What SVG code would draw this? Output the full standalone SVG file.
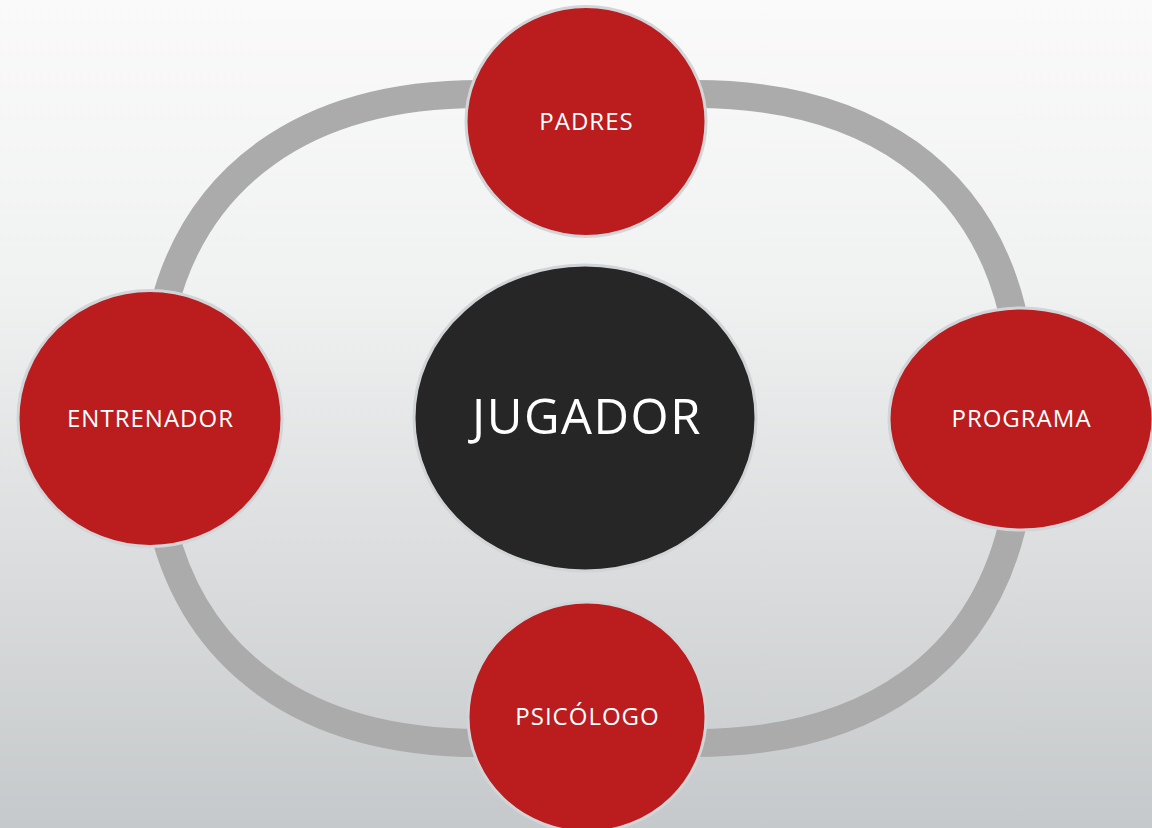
<svg xmlns="http://www.w3.org/2000/svg" width="1152" height="828" viewBox="0 0 1152 828">
<defs>
<linearGradient id="bg" x1="0" y1="0" x2="0" y2="1">
<stop offset="0" stop-color="#fafafa"/>
<stop offset="0.35" stop-color="#f0f1f1"/>
<stop offset="1" stop-color="#c6c9cb"/>
</linearGradient>
<style>
.ring{fill:none;stroke:#ababab;stroke-width:28}
.node{fill:#bb1c1e;stroke:#d2d5d8;stroke-width:3}
.center{fill:#262626;stroke:#d2d5d8;stroke-width:3}
.lbl{font-family:"Open Sans","Liberation Sans",sans-serif;fill:#ffffff;text-anchor:middle;font-size:24px;letter-spacing:1px}
.big{font-size:49px;letter-spacing:1.5px}
</style>
</defs>
<rect x="0" y="0" width="1152" height="828" fill="url(#bg)"/>
<g id="connectors">
<path class="ring" d="M163,310 C195,180 300,94 480,94"/>
<path class="ring" d="M1012,310 C980,180 875,94 695,94"/>
<path class="ring" d="M163,527 C195,657 300,743 480,743"/>
<path class="ring" d="M1012,527 C980,657 875,743 695,743"/>
</g>
<g id="jugador">
<ellipse class="center" cx="585" cy="418" rx="171" ry="153"/>
<text class="lbl big" x="587" y="434">JUGADOR</text>
</g>
<g id="padres">
<ellipse class="node" cx="586" cy="121.5" rx="120" ry="115"/>
<text class="lbl" x="586.5" y="130">PADRES</text>
</g>
<g id="entrenador">
<ellipse class="node" cx="150" cy="418.5" rx="132" ry="128"/>
<text class="lbl" x="150.5" y="427">ENTRENADOR</text>
</g>
<g id="programa">
<ellipse class="node" cx="1021" cy="419" rx="132" ry="111"/>
<text class="lbl" x="1021.5" y="427">PROGRAMA</text>
</g>
<g id="psicologo">
<ellipse class="node" cx="587" cy="717" rx="119" ry="115"/>
<text class="lbl" x="587.5" y="725">PSICÓLOGO</text>
</g>
</svg>
